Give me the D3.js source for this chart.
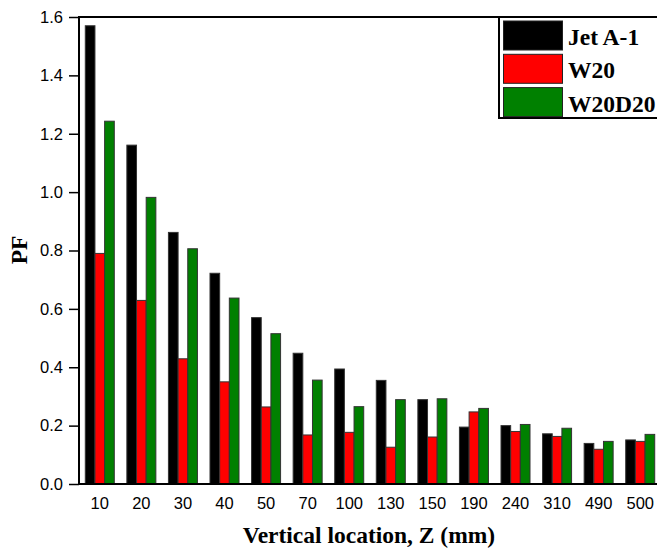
<!DOCTYPE html>
<html>
<head>
<meta charset="utf-8">
<script src="https://cdn.jsdelivr.net/npm/d3@7"></script>
<style>
  body { margin: 0; background: #fff; }
  svg { display: block; }
</style>
</head>
<body>
<svg id="chart" width="657" height="551"></svg>
<script>
const categories = ["10", "20", "30", "40", "50", "70", "100", "130", "150", "190", "240", "310", "490", "500"];
const seriesNames = ["Jet A-1", "W20", "W20D20"];
const seriesColors = ["#000000", "#ff0000", "#008000"];
const jetA1 = [1.570, 1.161, 0.862, 0.722, 0.570, 0.448, 0.394, 0.355, 0.289, 0.195, 0.200, 0.172, 0.139, 0.151];
const w20 = [0.790, 0.629, 0.429, 0.350, 0.264, 0.168, 0.177, 0.126, 0.161, 0.247, 0.180, 0.163, 0.119, 0.146];
const w20d20 = [1.243, 0.982, 0.806, 0.637, 0.515, 0.356, 0.265, 0.289, 0.292, 0.259, 0.204, 0.191, 0.146, 0.170];
const yTicks = [0.0, 0.2, 0.4, 0.6, 0.8, 1.0, 1.2, 1.4, 1.6];

const seriesValues = [jetA1, w20, w20d20];

const svg = d3.select("#chart");
const plotL = 79, plotR = 661, plotT = 17, plotB = 484;

const x0 = d3.scaleBand().domain(categories).range([plotL, plotR]).padding(0);
const x1 = d3.scaleBand().domain(d3.range(seriesNames.length))
  .range([0, x0.bandwidth()]).paddingInner(0).paddingOuter(0.65);
const y = d3.scaleLinear().domain([0, 1.6]).range([plotB, plotT]);

// Bars
const groups = svg.append("g").selectAll("g")
  .data(categories)
  .join("g")
  .attr("transform", d => `translate(${x0(d)},0)`);

groups.selectAll("rect")
  .data((d, i) => seriesValues.map((vals, s) => ({ s, v: vals[i] })))
  .join("rect")
  .attr("x", d => x1(d.s))
  .attr("y", d => y(d.v))
  .attr("width", x1.bandwidth())
  .attr("height", d => y(0) - y(d.v))
  .attr("fill", d => seriesColors[d.s])
  .attr("stroke", "#333")
  .attr("stroke-width", 1);

// Y axis
const yAxis = svg.append("g")
  .attr("transform", `translate(${plotL},0)`)
  .call(d3.axisLeft(y).tickValues(yTicks).tickFormat(d3.format(".1f")).tickSize(10).tickPadding(6));
yAxis.select(".domain").remove();
yAxis.selectAll(".tick line").attr("stroke", "#000").attr("stroke-width", 1.5);
yAxis.selectAll(".tick text")
  .attr("font-family", "Liberation Sans, Arial, sans-serif")
  .attr("font-size", 16.5)
  .attr("fill", "#000");

// X axis labels
const xAxis = svg.append("g")
  .attr("transform", `translate(0,${plotB})`)
  .call(d3.axisBottom(x0).tickSize(0).tickPadding(13));
xAxis.select(".domain").remove();
xAxis.selectAll(".tick text")
  .attr("font-family", "Liberation Sans, Arial, sans-serif")
  .attr("font-size", 16.5)
  .attr("fill", "#000");

// Frame lines
svg.append("line").attr("x1", plotL).attr("x2", plotL).attr("y1", plotT).attr("y2", plotB)
  .attr("stroke", "#000").attr("stroke-width", 2);
svg.append("line").attr("x1", plotL - 1).attr("x2", 700).attr("y1", plotB).attr("y2", plotB)
  .attr("stroke", "#000").attr("stroke-width", 2);
svg.append("line").attr("x1", plotL - 1).attr("x2", 700).attr("y1", plotT).attr("y2", plotT)
  .attr("stroke", "#000").attr("stroke-width", 2);

// Axis titles
svg.append("text")
  .attr("x", 369).attr("y", 543)
  .attr("text-anchor", "middle")
  .attr("font-family", "Liberation Serif, Times New Roman, serif")
  .attr("font-weight", "bold")
  .attr("font-size", 23.5)
  .text("Vertical location, Z (mm)");

svg.append("text")
  .attr("transform", "translate(27,250) rotate(-90)")
  .attr("text-anchor", "middle")
  .attr("font-family", "Liberation Serif, Times New Roman, serif")
  .attr("font-weight", "bold")
  .attr("font-size", 23.5)
  .text("PF");

// Legend
const legend = svg.append("g");
legend.append("rect")
  .attr("x", 499).attr("y", 17).attr("width", 200).attr("height", 101)
  .attr("fill", "#fff").attr("stroke", "#000").attr("stroke-width", 2);
const rowH = 33.3;
seriesNames.forEach((name, i) => {
  legend.append("rect")
    .attr("x", 503.5).attr("y", 21 + i * rowH)
    .attr("width", 59).attr("height", 29)
    .attr("fill", seriesColors[i]).attr("stroke", "#222").attr("stroke-width", 1);
  legend.append("text")
    .attr("x", 568).attr("y", 45 + i * rowH)
    .attr("font-family", "Liberation Serif, Times New Roman, serif")
    .attr("font-weight", "bold")
    .attr("font-size", 23.5)
    .text(name);
});
</script>
</body>
</html>
